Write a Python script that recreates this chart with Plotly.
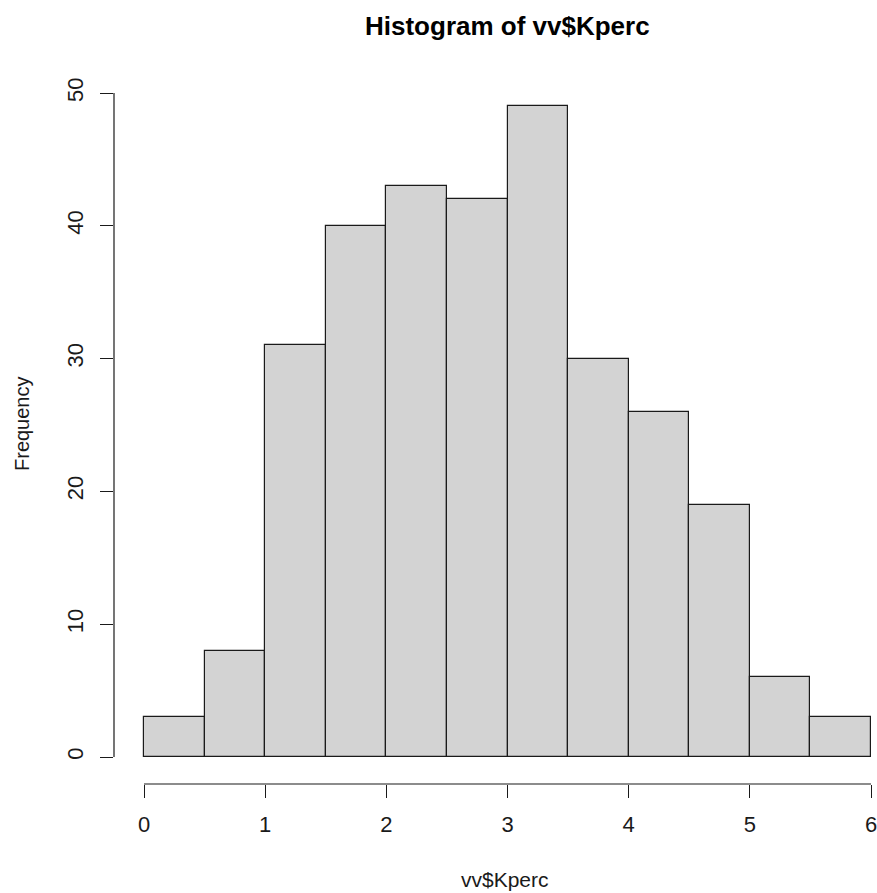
import plotly.graph_objects as go

# Data: histogram of vv$Kperc, bin width 0.5
bin_edges = [0, 0.5, 1, 1.5, 2, 2.5, 3, 3.5, 4, 4.5, 5, 5.5, 6]
counts = [3, 8, 31, 40, 43, 42, 49, 30, 26, 19, 6, 3]
x_ticks = [0, 1, 2, 3, 4, 5, 6]
y_ticks = [0, 10, 20, 30, 40, 50]

centers = [(bin_edges[i] + bin_edges[i + 1]) / 2 for i in range(len(counts))]
widths = [bin_edges[i + 1] - bin_edges[i] for i in range(len(counts))]

W, H = 877, 893
ML, MR, MT, MB = 114, 0, 80, 109
FONT = "Liberation Sans, Arial, sans-serif"
LINE = "#1a1a1a"

fig = go.Figure()
fig.add_trace(go.Bar(
    x=centers, y=counts, width=widths,
    marker=dict(color="#D3D3D3", line=dict(color=LINE, width=1.2)),
    hoverinfo="x+y", showlegend=False,
))

fig.update_layout(
    width=W, height=H,
    margin=dict(l=ML, r=MR, t=MT, b=MB, pad=0),
    plot_bgcolor="white", paper_bgcolor="white",
    bargap=0,
    font=dict(family=FONT, size=22, color="#1a1a1a"),
    xaxis=dict(
        range=[-0.2476, 6.0495], tickvals=x_ticks, ticktext=[str(v) for v in x_ticks],
        showgrid=False, zeroline=False, showline=False,
        ticks="outside", ticklen=13, tickwidth=1.2, tickcolor=LINE,
        ticklabelstandoff=8, tickfont=dict(size=22), ticklabeloverflow="allow",
    ),
    yaxis=dict(
        range=[-2.033, 50.979], tickvals=y_ticks, ticktext=[str(v) for v in y_ticks],
        showgrid=False, zeroline=False, showline=False,
        ticks="outside", ticklen=13, tickwidth=1.2, tickcolor=LINE,
        tickangle=-90, ticklabelstandoff=8, tickfont=dict(size=22), ticklabeloverflow="allow",
    ),
    shapes=[
        dict(type="line", xref="paper", yref="y", x0=0, x1=0, y0=y_ticks[0], y1=y_ticks[-1],
             line=dict(color=LINE, width=1.2)),
        dict(type="line", xref="x", yref="paper", x0=x_ticks[0], x1=x_ticks[-1], y0=0, y1=0,
             line=dict(color=LINE, width=1.2)),
    ],
)

pw = W - ML - MR
ph = H - MT - MB

def px_x(p):
    return (p - ML) / pw

def px_y(p):
    return (H - MB - p) / ph

fig.add_annotation(text="<b>Histogram of vv$Kperc</b>", xref="paper", yref="paper",
                   x=px_x(507), y=px_y(26), xanchor="center", yanchor="middle",
                   showarrow=False, font=dict(size=26, family=FONT, color="black"))
fig.add_annotation(text="vv$Kperc", xref="paper", yref="paper",
                   x=px_x(505), y=px_y(880), xanchor="center", yanchor="middle",
                   showarrow=False, font=dict(size=21, family=FONT, color="#1a1a1a"))
fig.add_annotation(text="Frequency", xref="paper", yref="paper",
                   x=px_x(22), y=px_y(424), xanchor="center", yanchor="middle",
                   textangle=-90, showarrow=False, font=dict(size=20, family=FONT, color="#1a1a1a"))

fig.write_html("out.html")
